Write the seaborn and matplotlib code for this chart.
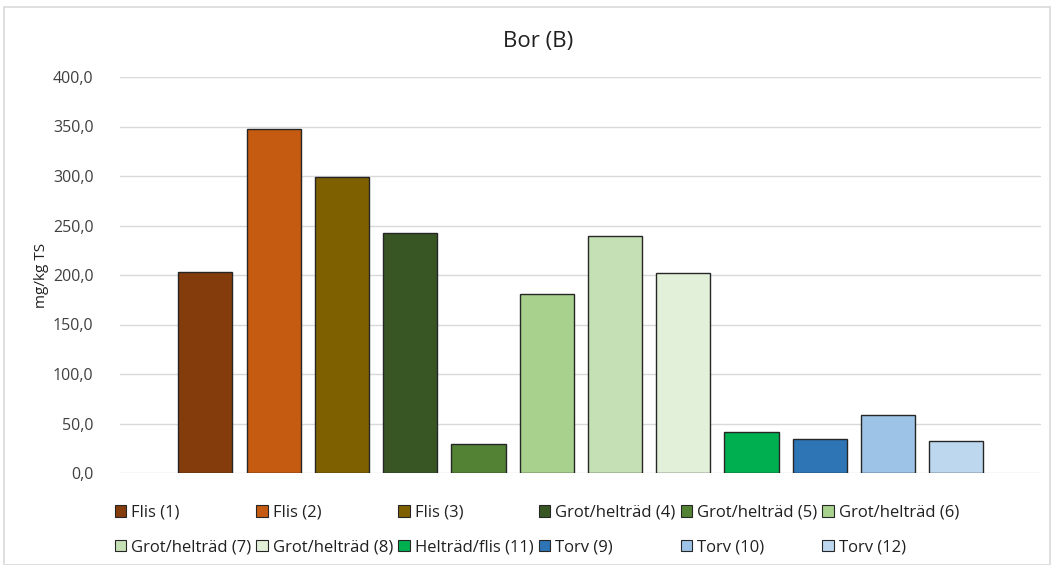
import matplotlib
matplotlib.use("Agg")
import matplotlib.pyplot as plt
from matplotlib.patches import Patch, Rectangle
from matplotlib.ticker import FuncFormatter, MultipleLocator
import seaborn as sns
import pandas as pd

categories = ["Flis (1)", "Flis (2)", "Flis (3)", "Grot/helträd (4)", "Grot/helträd (5)",
              "Grot/helträd (6)", "Grot/helträd (7)", "Grot/helträd (8)", "Helträd/flis (11)",
              "Torv (9)", "Torv (10)", "Torv (12)"]
values = [203.0, 347.5, 298.5, 242.0, 29.5, 180.5, 239.5, 202.5, 41.0, 34.0, 59.0, 32.0]
colors = ["#843C0C", "#C55A11", "#7F6000", "#375623", "#548235", "#A9D18E",
          "#C5E0B4", "#E2F0D9", "#00B050", "#2E75B6", "#9DC3E6", "#BDD7EE"]
title = "Bor (B)"
ylabel = "mg/kg TS"

sns.set_theme(style="white")
plt.rcParams["font.family"] = ["Open Sans", "DejaVu Sans"]

df = pd.DataFrame({"cat": categories, "val": values})

fig = plt.figure(figsize=(10.53, 5.65), dpi=100)
ax = fig.add_axes([120/1053, 1-473/565, (1041-120)/1053, (473-77)/565])

sns.barplot(data=df, x="cat", y="val", hue="cat", palette=colors, order=categories,
            hue_order=categories, width=0.794, edgecolor="#262626", linewidth=1.0,
            saturation=1, legend=False, ax=ax, zorder=3)

ax.set_ylim(0, 400)
ax.set_xlim(-1.25, 12.24)
ax.yaxis.set_major_locator(MultipleLocator(50))
ax.yaxis.set_major_formatter(FuncFormatter(lambda v, p: f"{v:.1f}".replace(".", ",")))
ax.grid(axis="y", color="#D9D9D9", linewidth=1.0, zorder=0)
ax.set_axisbelow(True)
for s in ax.spines.values():
    s.set_visible(False)
ax.set_xticks([])
ax.set_xlabel("")
ax.tick_params(axis="y", length=0, pad=19, labelsize=11.5, labelcolor="#404040")
ax.set_ylabel(ylabel, fontsize=11, color="#202020", labelpad=3)

fig.text(538/1053, 1-42/565, title, ha="center", va="center", fontsize=16, color="#202020")

handles = [Patch(facecolor=c, edgecolor="#262626", linewidth=0.8) for c in colors]
order = [0, 6, 1, 7, 2, 8, 3, 9, 4, 10, 5, 11]
leg = fig.legend([handles[i] for i in order], [categories[i] for i in order],
                 ncol=6, loc="center", bbox_to_anchor=(537/1053, 1-530/565), frameon=False,
                 fontsize=12, handlelength=0.7, handleheight=0.7, handletextpad=0.3,
                 columnspacing=0.3, labelspacing=1.1, borderaxespad=0)
for t in leg.get_texts():
    t.set_color("#202020")

fig.patches.append(Rectangle((4/1053, 0.0), 1046/1053, 1-7/565, transform=fig.transFigure,
                             fill=False, edgecolor="#D9D9D9", linewidth=1.2))

fig.savefig("out.png", dpi=100, facecolor="white")
